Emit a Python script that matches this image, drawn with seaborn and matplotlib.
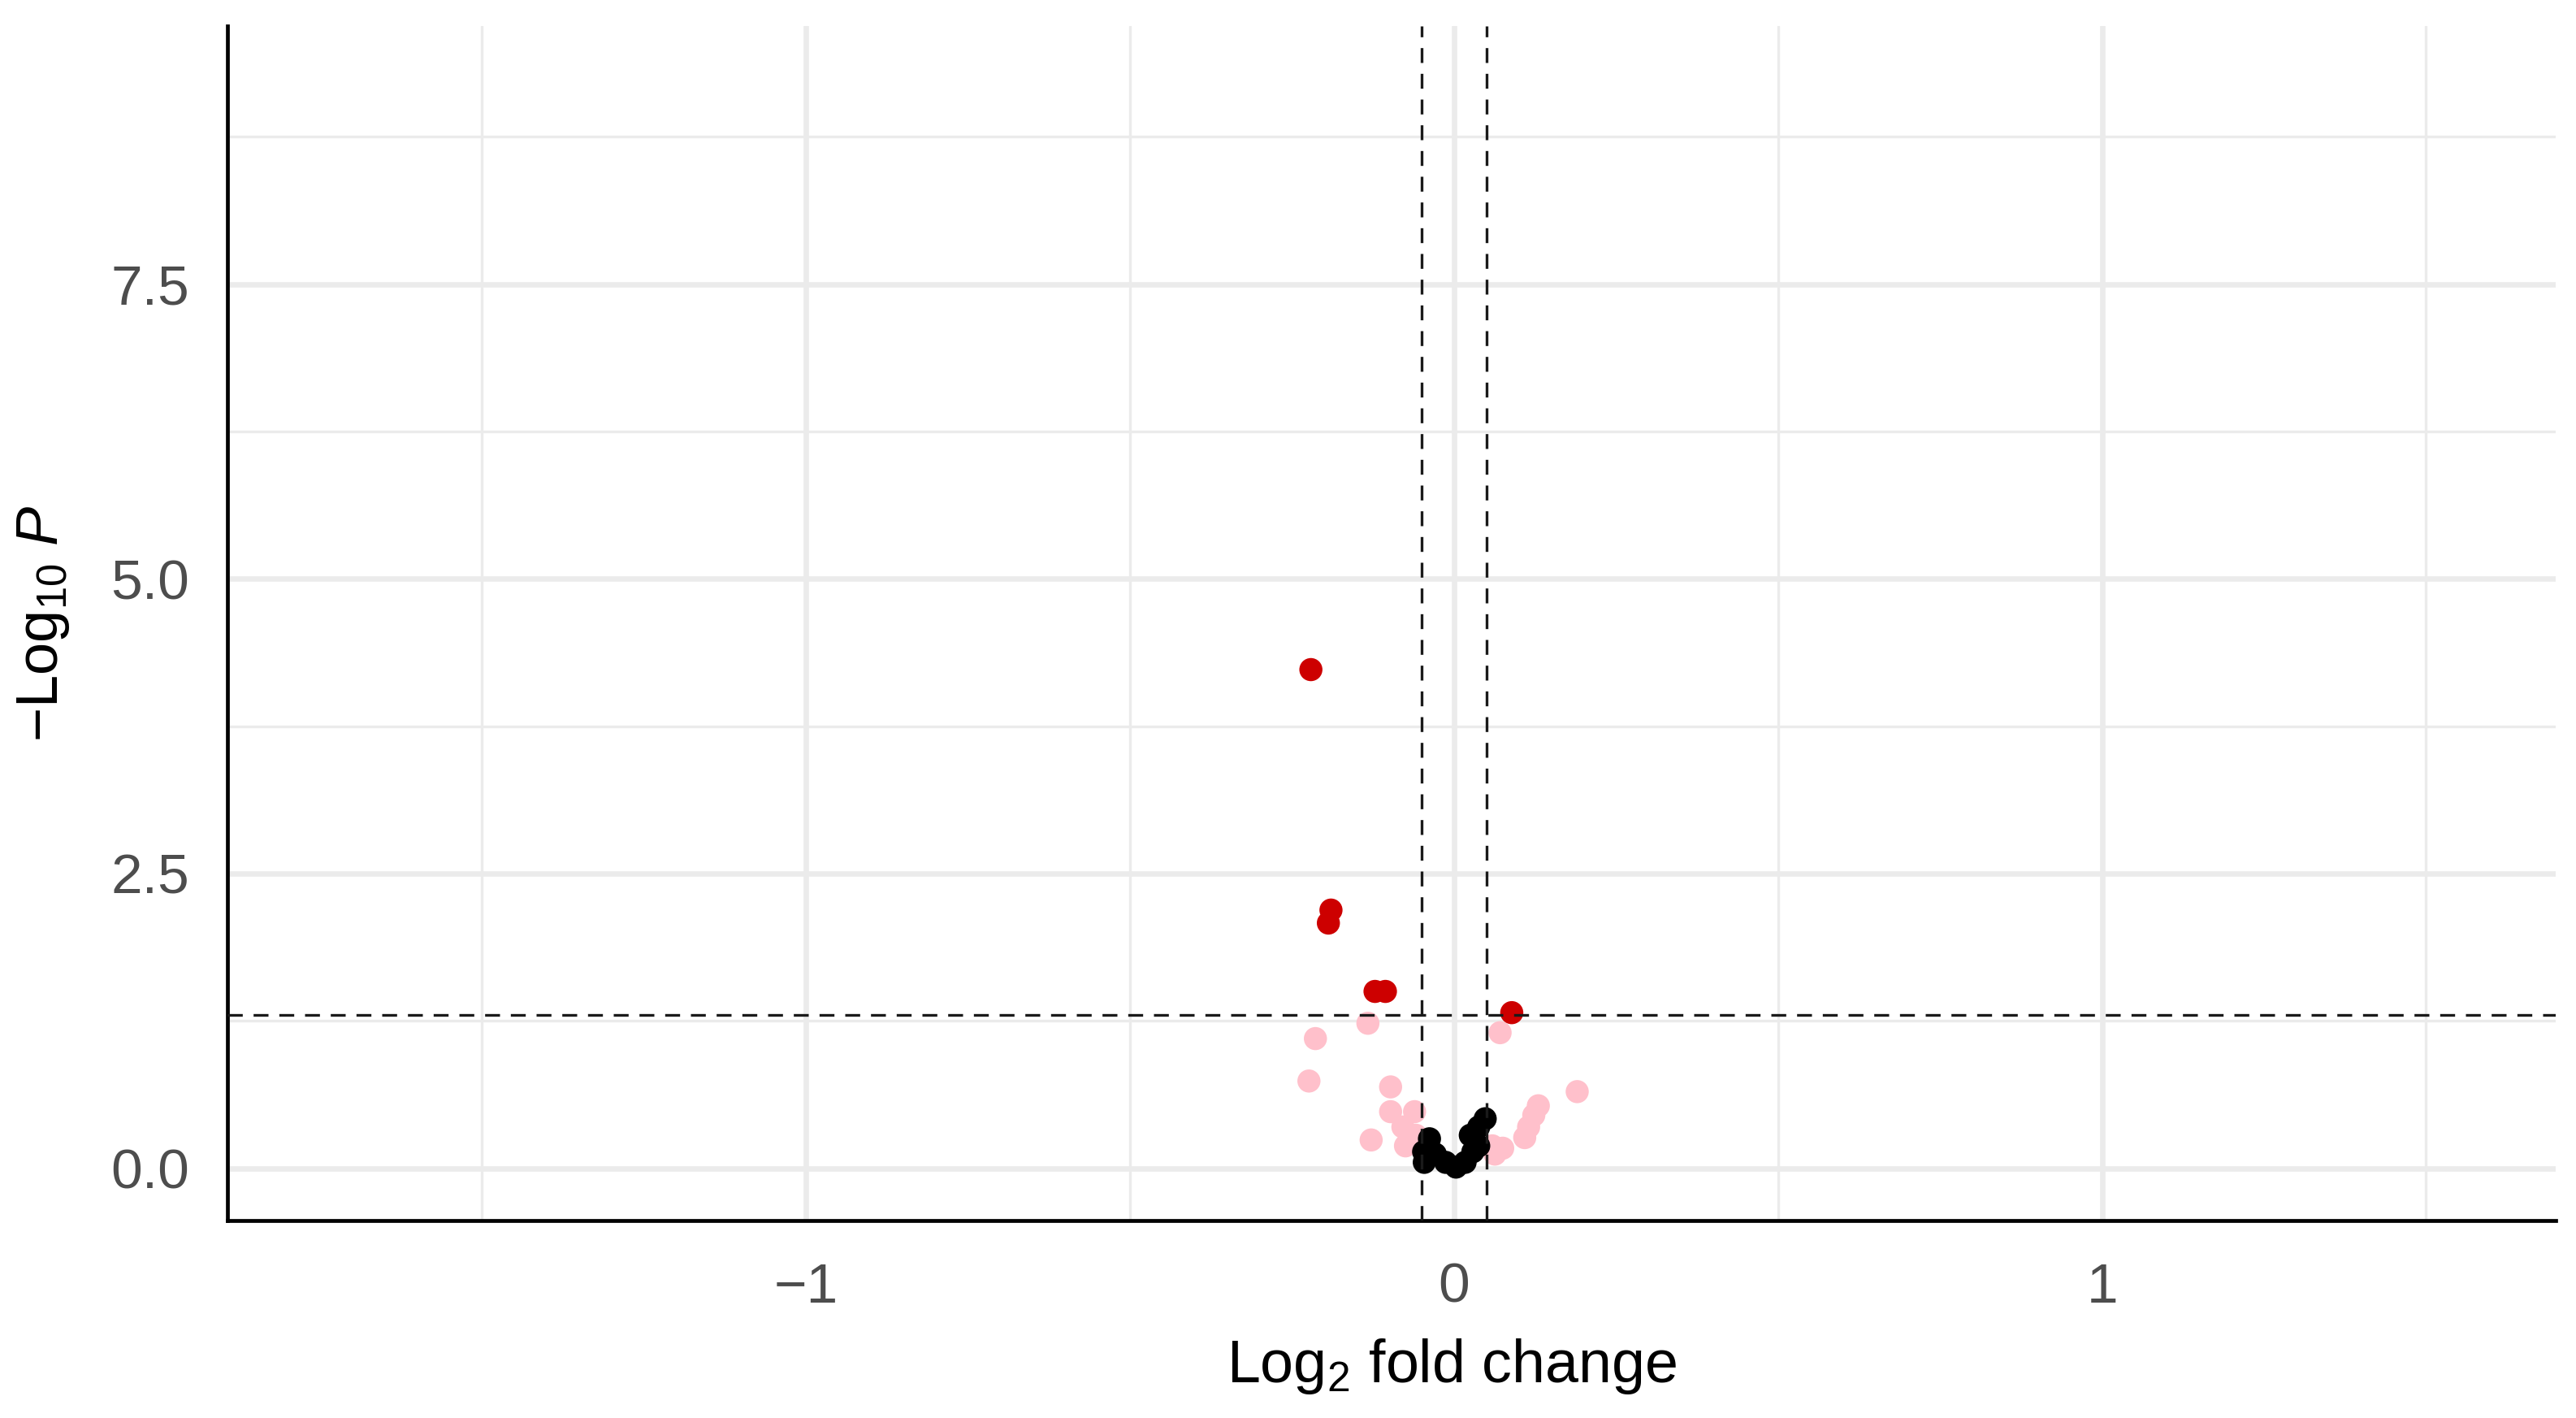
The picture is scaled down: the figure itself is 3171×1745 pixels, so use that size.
import pandas as pd
import seaborn as sns
import matplotlib.pyplot as plt

# points (log2 fold change, -log10 p)
red_x = [-0.221, -0.190, -0.194, -0.122, -0.106, 0.089]
red_y = [4.23, 2.19, 2.08, 1.50, 1.50, 1.32]

pink_x = [-0.133, -0.214, -0.224, -0.098, 0.190, 0.071, -0.128, -0.098, -0.061,
          -0.079, -0.075, -0.059, 0.130, 0.123, 0.115, 0.109, 0.075, 0.063, 0.059]
pink_y = [1.23, 1.10, 0.74, 0.69, 0.65, 1.15, 0.24, 0.48, 0.48,
          0.35, 0.19, 0.28, 0.53, 0.45, 0.35, 0.26, 0.17, 0.12, 0.19]

black_x = [-0.038, -0.047, -0.046, -0.029, -0.013, 0.003, 0.017, 0.029, 0.025,
           0.038, 0.048, 0.038]
black_y = [0.25, 0.14, 0.05, 0.12, 0.05, 0.01, 0.05, 0.14, 0.28,
           0.35, 0.42, 0.19]

fc_cutoff = 0.05
p_cutoff = 1.301

x_ticks = [-1, 0, 1]
x_tick_labels = ["\u22121", "0", "1"]
y_ticks = [0.0, 2.5, 5.0, 7.5]
y_tick_labels = ["0.0", "2.5", "5.0", "7.5"]

df = pd.concat([
    pd.DataFrame({"lfc": pink_x, "p": pink_y, "group": "Log2 FC"}),
    pd.DataFrame({"lfc": black_x, "p": black_y, "group": "NS"}),
    pd.DataFrame({"lfc": red_x, "p": red_y, "group": "p-value and log2 FC"}),
], ignore_index=True)

sns.set_theme(style="white")
plt.rcParams["font.family"] = ["Liberation Sans", "DejaVu Sans"]
plt.rcParams["mathtext.fontset"] = "custom"
plt.rcParams["mathtext.rm"] = "Liberation Sans"
plt.rcParams["mathtext.it"] = "Liberation Sans:italic"

fig = plt.figure(figsize=(15.855, 8.725), dpi=200)
ax = fig.add_axes([0.0883, 0.1393, 0.9038, 0.8424])

palette = {"NS": "black", "Log2 FC": "#FFC0CB", "p-value and log2 FC": "#CD0000"}
sns.scatterplot(data=df, x="lfc", y="p", hue="group", palette=palette,
                s=105, linewidth=0, legend=False, ax=ax, zorder=3)

ax.set_xlim(-1.893, 1.700)
ax.set_ylim(-0.443, 9.69)

# grid like ggplot
for v in [-1.5, -0.5, 0.5, 1.5]:
    ax.axvline(v, color="#EBEBEB", lw=1.2, zorder=0)
for v in x_ticks:
    ax.axvline(v, color="#EBEBEB", lw=2.4, zorder=0)
for v in [1.25, 3.75, 6.25, 8.75]:
    ax.axhline(v, color="#EBEBEB", lw=1.2, zorder=0)
for v in y_ticks:
    ax.axhline(v, color="#EBEBEB", lw=2.4, zorder=0)

dash = dict(color="#1a1a1a", lw=1.2, linestyle=(0, (5.5, 4)), zorder=4)
ax.axvline(-fc_cutoff, **dash)
ax.axvline(fc_cutoff, **dash)
ax.axhline(p_cutoff, **dash)

ax.set_xticks(x_ticks)
ax.set_xticklabels(x_tick_labels)
ax.set_yticks(y_ticks)
ax.set_yticklabels(y_tick_labels)
ax.tick_params(axis="both", length=8.3, width=2.0, color="#222222",
               labelsize=25, labelcolor="#4D4D4D", direction="out")
ax.tick_params(axis="x", pad=10)
ax.tick_params(axis="y", pad=8.5)

for side in ["top", "right"]:
    ax.spines[side].set_visible(False)
for side in ["left", "bottom"]:
    ax.spines[side].set_color("black")
    ax.spines[side].set_linewidth(1.7)

ax.set_xlabel(r"$\mathrm{Log}_{2}$ fold change", fontsize=26.5, color="black")
ax.set_ylabel(r"$-\mathrm{Log}_{10}\ \mathit{P}$", fontsize=26, color="black")
ax.xaxis.set_label_coords(0.526, -0.097)
ax.yaxis.set_label_coords(-0.067, 0.5)

fig.savefig("out.png", dpi=200, facecolor="white")
